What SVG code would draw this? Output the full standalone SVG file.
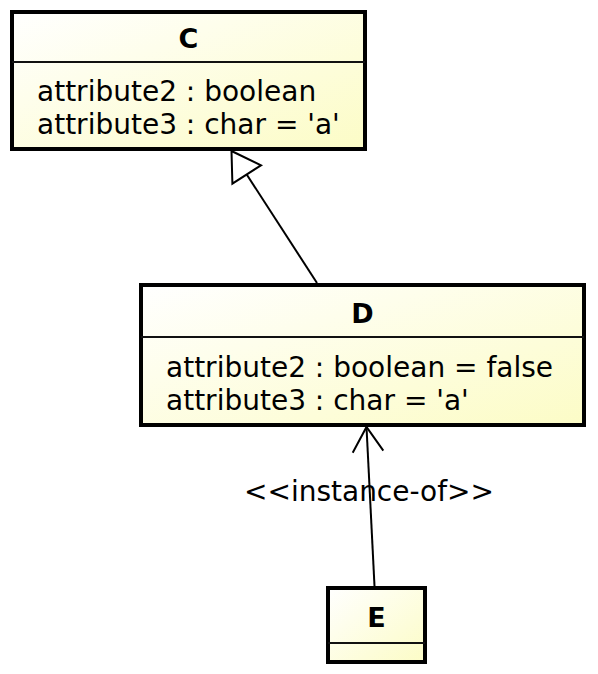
<svg xmlns="http://www.w3.org/2000/svg" width="598" height="674" viewBox="0 0 598 674">
  <defs>
    <linearGradient id="fill" x1="0" y1="0" x2="1" y2="1">
      <stop offset="0" stop-color="#FFFFFF"/>
      <stop offset="1" stop-color="#FCFCC6"/>
    </linearGradient>
    <style>
      .box { fill: url(#fill); stroke: #000; stroke-width: 4; }
      .sep { stroke: #111; stroke-width: 2; fill: none; }
      .title { font-family: "DejaVu Sans", "Liberation Sans", sans-serif; font-size: 27px; font-weight: bold; text-anchor: middle; fill: #000; }
      .attr { font-family: "DejaVu Sans", "Liberation Sans", sans-serif; font-size: 28px; fill: #000; }
      .edge { stroke: #000; stroke-width: 2; fill: none; }
      .label { font-family: "DejaVu Sans", "Liberation Sans", sans-serif; font-size: 28px; text-anchor: middle; fill: #000; }
    </style>
  </defs>

  <g id="connectors">
    <g id="generalization">
      <line class="edge" x1="317" y1="283" x2="246.7" y2="174.5"/>
      <polygon class="edge" points="231.5,151 261,165.3 232.4,183.7" fill="#fff"/>
    </g>
    <g id="instance-of">
      <line class="edge" x1="374.5" y1="586" x2="366.5" y2="427"/>
      <polyline class="edge" points="352.7,452.7 366.5,427 383.3,450.7"/>
      <text class="label" x="369" y="501">&lt;&lt;instance-of&gt;&gt;</text>
    </g>
  </g>

  <g id="C">
    <rect class="box" x="12" y="12" width="353" height="137"/>
    <line class="sep" x1="12" y1="62" x2="365" y2="62"/>
    <text class="title" x="188.5" y="48">C</text>
    <text class="attr" x="37" y="101">attribute2 : boolean</text>
    <text class="attr" x="37" y="134">attribute3 : char = 'a'</text>
  </g>

  <g id="D">
    <rect class="box" x="141" y="285" width="443" height="140"/>
    <line class="sep" x1="141" y1="337" x2="584" y2="337"/>
    <text class="title" x="362.5" y="323">D</text>
    <text class="attr" x="166" y="377">attribute2 : boolean = false</text>
    <text class="attr" x="166" y="410">attribute3 : char = 'a'</text>
  </g>

  <g id="E">
    <rect class="box" x="328" y="588" width="97" height="74"/>
    <line class="sep" x1="328" y1="643" x2="425" y2="643"/>
    <text class="title" x="376.5" y="627">E</text>
  </g>
</svg>
